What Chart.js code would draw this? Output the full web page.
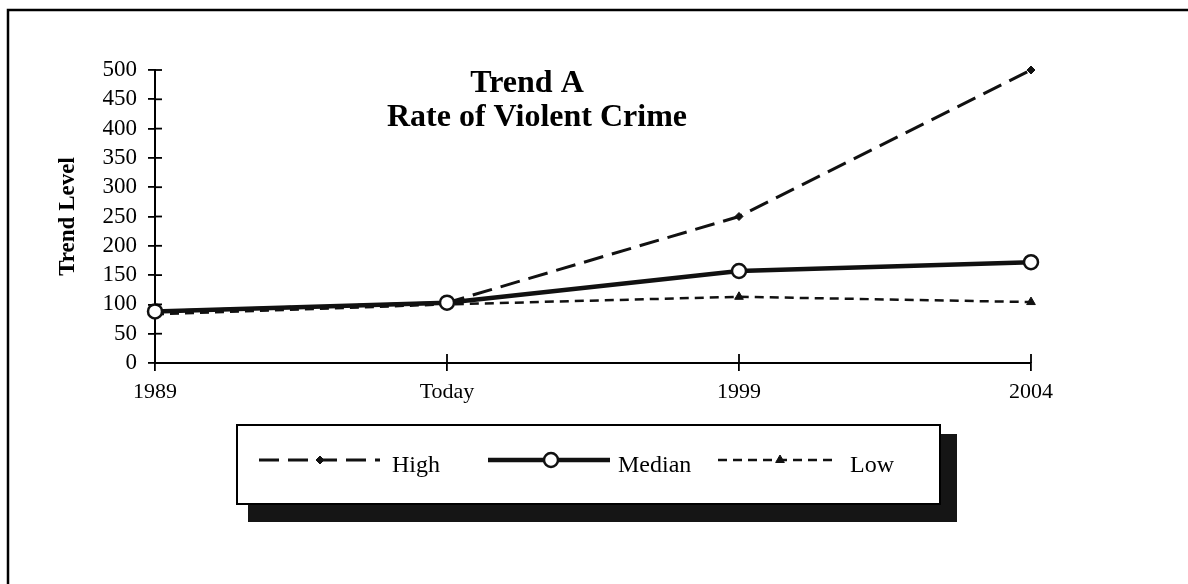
<!DOCTYPE html>
<html>
<head>
<meta charset="utf-8">
<script src="https://cdn.jsdelivr.net/npm/chart.js@4/dist/chart.umd.min.js"></script>
<style>
  body { margin: 0; background: #fff; }
  canvas { display: block; }
</style>
</head>
<body>
<canvas id="trendChart" width="1188" height="584"></canvas>
<script>
// data
var categories = ["1989", "Today", "1999", "2004"];
var highValues = [88, 103, 250, 500];
var medianValues = [88, 103, 157, 172];
var lowValues = [83, 100, 113, 104];
var seriesNames = ["High", "Median", "Low"];
var yTicks = [0, 50, 100, 150, 200, 250, 300, 350, 400, 450, 500];
var titleLines = ["Trend A", "Rate of Violent Crime"];

var serif = "'Liberation Serif', 'Times New Roman', serif";

// frame, title, inner tick halves and the boxed legend
var extras = {
  id: 'extras',
  afterDatasetsDraw: function(chart) {
    var ctx = chart.ctx;
    var area = chart.chartArea;
    var xs = chart.scales.x, ys = chart.scales.y;
    ctx.save();
    ctx.strokeStyle = '#000';
    ctx.lineWidth = 1.8;
    yTicks.forEach(function(v) {
      var y = ys.getPixelForValue(v);
      ctx.beginPath(); ctx.moveTo(area.left, y); ctx.lineTo(area.left + 7, y); ctx.stroke();
    });
    categories.forEach(function(c, i) {
      var x = xs.getPixelForValue(i);
      ctx.beginPath(); ctx.moveTo(x, area.bottom); ctx.lineTo(x, area.bottom - 9); ctx.stroke();
    });

    // outer frame
    ctx.lineWidth = 2.5;
    ctx.beginPath();
    ctx.moveTo(8, 584); ctx.lineTo(8, 10); ctx.lineTo(1188, 10);
    ctx.stroke();

    // title
    ctx.fillStyle = '#000';
    ctx.textAlign = 'center';
    ctx.textBaseline = 'alphabetic';
    ctx.font = 'bold 32px ' + serif;
    ctx.fillText(titleLines[0], 527, 92);
    ctx.fillText(titleLines[1], 537, 126);

    // legend box with shadow
    ctx.fillStyle = '#151515';
    ctx.fillRect(248, 434, 709, 88);
    ctx.fillStyle = '#fff';
    ctx.fillRect(237, 425, 703, 79);
    ctx.lineWidth = 2;
    ctx.strokeRect(237, 425, 703, 79);

    var items = [
      {x0: 259, x1: 380, mark: 320, tx: 392},
      {x0: 488, x1: 610, mark: 551, tx: 618},
      {x0: 718, x1: 832, mark: 780, tx: 850}
    ];
    var ly = 460;
    chart.data.datasets.forEach(function(ds, i) {
      var it = items[i];
      ctx.save();
      ctx.strokeStyle = ds.borderColor;
      ctx.lineWidth = ds.borderWidth;
      ctx.setLineDash(ds.borderDash || []);
      ctx.beginPath(); ctx.moveTo(it.x0, ly); ctx.lineTo(it.x1, ly); ctx.stroke();
      ctx.setLineDash([]);
      ctx.fillStyle = ds.pointBackgroundColor;
      ctx.strokeStyle = ds.borderColor;
      ctx.lineWidth = ds.pointBorderWidth;
      Chart.helpers.drawPoint(ctx, {pointStyle: ds.pointStyle, radius: ds.pointRadius, rotation: 0, borderWidth: ds.pointBorderWidth}, it.mark, ly);
      ctx.restore();
      ctx.fillStyle = '#000';
      ctx.font = '24px ' + serif;
      ctx.textAlign = 'left';
      ctx.textBaseline = 'alphabetic';
      ctx.fillText(ds.label, it.tx, 472);
    });
    ctx.restore();
  }
};

new Chart(document.getElementById('trendChart'), {
  type: 'line',
  data: {
    labels: categories,
    datasets: [
      {
        label: seriesNames[0],
        data: highValues,
        borderColor: '#111',
        borderWidth: 3,
        borderDash: [20, 9],
        pointStyle: 'rectRot',
        pointRadius: 4,
        pointBackgroundColor: '#111',
        pointBorderWidth: 1,
        tension: 0,
        clip: false,
        order: 2
      },
      {
        label: seriesNames[1],
        data: medianValues,
        borderColor: '#111',
        borderWidth: 4.5,
        pointStyle: 'circle',
        pointRadius: 7,
        pointBackgroundColor: '#fff',
        pointBorderWidth: 2.5,
        tension: 0,
        clip: false,
        order: 0
      },
      {
        label: seriesNames[2],
        data: lowValues,
        borderColor: '#111',
        borderWidth: 2.5,
        borderDash: [9, 6],
        pointStyle: 'triangle',
        pointRadius: 5,
        pointBackgroundColor: '#111',
        pointBorderWidth: 1,
        tension: 0,
        clip: false,
        order: 1
      }
    ]
  },
  options: {
    responsive: false,
    animation: false,
    layout: { padding: { top: 70, right: 157, bottom: 0, left: 0 } },
    plugins: {
      legend: { display: false },
      title: { display: false },
      tooltip: { enabled: false }
    },
    scales: {
      x: {
        offset: false,
        grid: { drawOnChartArea: false, color: '#000', lineWidth: 1.8, tickLength: 8 },
        border: { color: '#000', width: 2 },
        ticks: { color: '#000', font: { family: serif, size: 22 }, padding: 8, maxRotation: 0 },
        afterFit: function(s) { s.height = 221; }
      },
      y: {
        min: 0,
        max: 500,
        afterBuildTicks: function(s) { s.ticks = yTicks.map(function(v) { return {value: v}; }); },
        grid: { drawOnChartArea: false, color: '#000', lineWidth: 1.8, tickLength: 7 },
        border: { color: '#000', width: 2 },
        ticks: { color: '#000', font: { family: serif, size: 23 }, padding: 11, autoSkip: false },
        title: {
          display: true,
          text: 'Trend Level',
          color: '#000',
          font: { family: serif, size: 23, weight: 'bold' },
          padding: { top: 54, bottom: 0 }
        },
        afterFit: function(s) { s.width = 155; }
      }
    }
  },
  plugins: [extras]
});
</script>
</body>
</html>
